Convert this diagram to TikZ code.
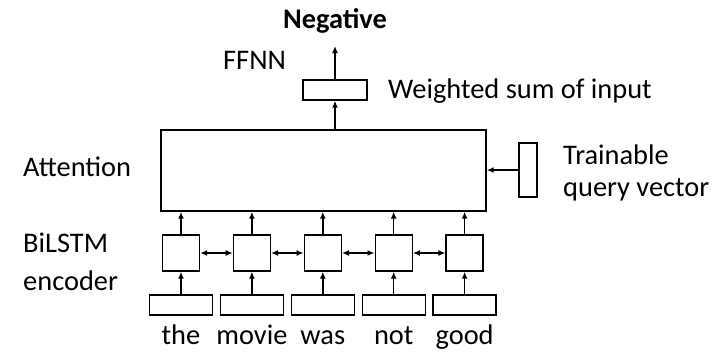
\documentclass[tikz,border=0pt]{standalone}
\usepackage{fontspec}
\setmainfont{Carlito}
\usetikzlibrary{arrows.meta,positioning}

\begin{document}
\begin{tikzpicture}[x=1pt,y=-1pt,font=\fontsize{28.4}{32}\selectfont]
			\tikzstyle{block} = [rectangle, draw, line width=1.4pt, inner sep=0pt]
			\tikzstyle{cell} = [block, minimum width=37pt, minimum height=36pt]
			\tikzstyle{emb} = [block, minimum width=63pt, minimum height=20pt]
			\tikzstyle{tag} = [inner sep=0pt, anchor=base west]
			\tikzstyle{word} = [inner sep=0pt, anchor=base]
			\tikzstyle{conn} = [draw, line width=1.4pt, -{Latex[length=7pt,width=6pt]}]
			\tikzstyle{biconn} = [draw, line width=1.4pt, {Latex[length=7pt,width=6pt]}-{Latex[length=7pt,width=6pt]}]

			\useasboundingbox (0,0) rectangle (727,352);

			\node [block, minimum width=325pt, minimum height=81pt] (att) at (323.5,170.5) {};
			\node [block, minimum width=64pt, minimum height=20pt] (ffnn) at (335,90) {};
			\node [block, minimum width=18pt, minimum height=54pt] (query) at (528,170) {};
			\node [word] (neg) at (335,29) {\bfseries Negative};

			\node [cell] (lstm1) at (181,253) {};
			\node [emb] (emb1) at (181,305) {};
			\foreach \i/\j in {1/2,2/3,3/4,4/5} {
				\node [cell, right=32.5pt of lstm\i] (lstm\j) {};
				\node [emb, right=6.5pt of emb\i] (emb\j) {};
			}
			\foreach \i/\w in {1/the,2/movie,3/was,4/not,5/good}
				\node [word] (word\i) at ([yshift=-29pt]emb\i.south) {\w};

			% multi-line tags sit on the baseline of their last line
			\node [tag] (attlbl) at (23,177) {Attention};
			\node [tag, align=left, font=\fontsize{28.4}{37}\selectfont] (enclbl) at (23,290) {BiLSTM\\encoder};
			\node [tag] (ffnnlbl) at (223,70) {FFNN};
			\node [tag] (sumlbl) at (388,99) {Weighted sum of input};
			\node [tag, align=left] (querylbl) at (563,197) {Trainable\\query vector};

			\foreach \i in {1,...,5} {
				\path [conn] (emb\i) -- (lstm\i);
				\path [conn] (lstm\i) -- (lstm\i |- att.south);
			}
			\foreach \i/\j in {1/2,2/3,3/4,4/5}
				\path [biconn] (lstm\i) -- (lstm\j);
			\path [conn] (ffnn.south |- att.north) -- (ffnn);
			\path [conn, shorten >=12pt] (ffnn) -- (neg);
			\path [conn] (query) -- (query -| att.east);
		\end{tikzpicture}
\end{document}
